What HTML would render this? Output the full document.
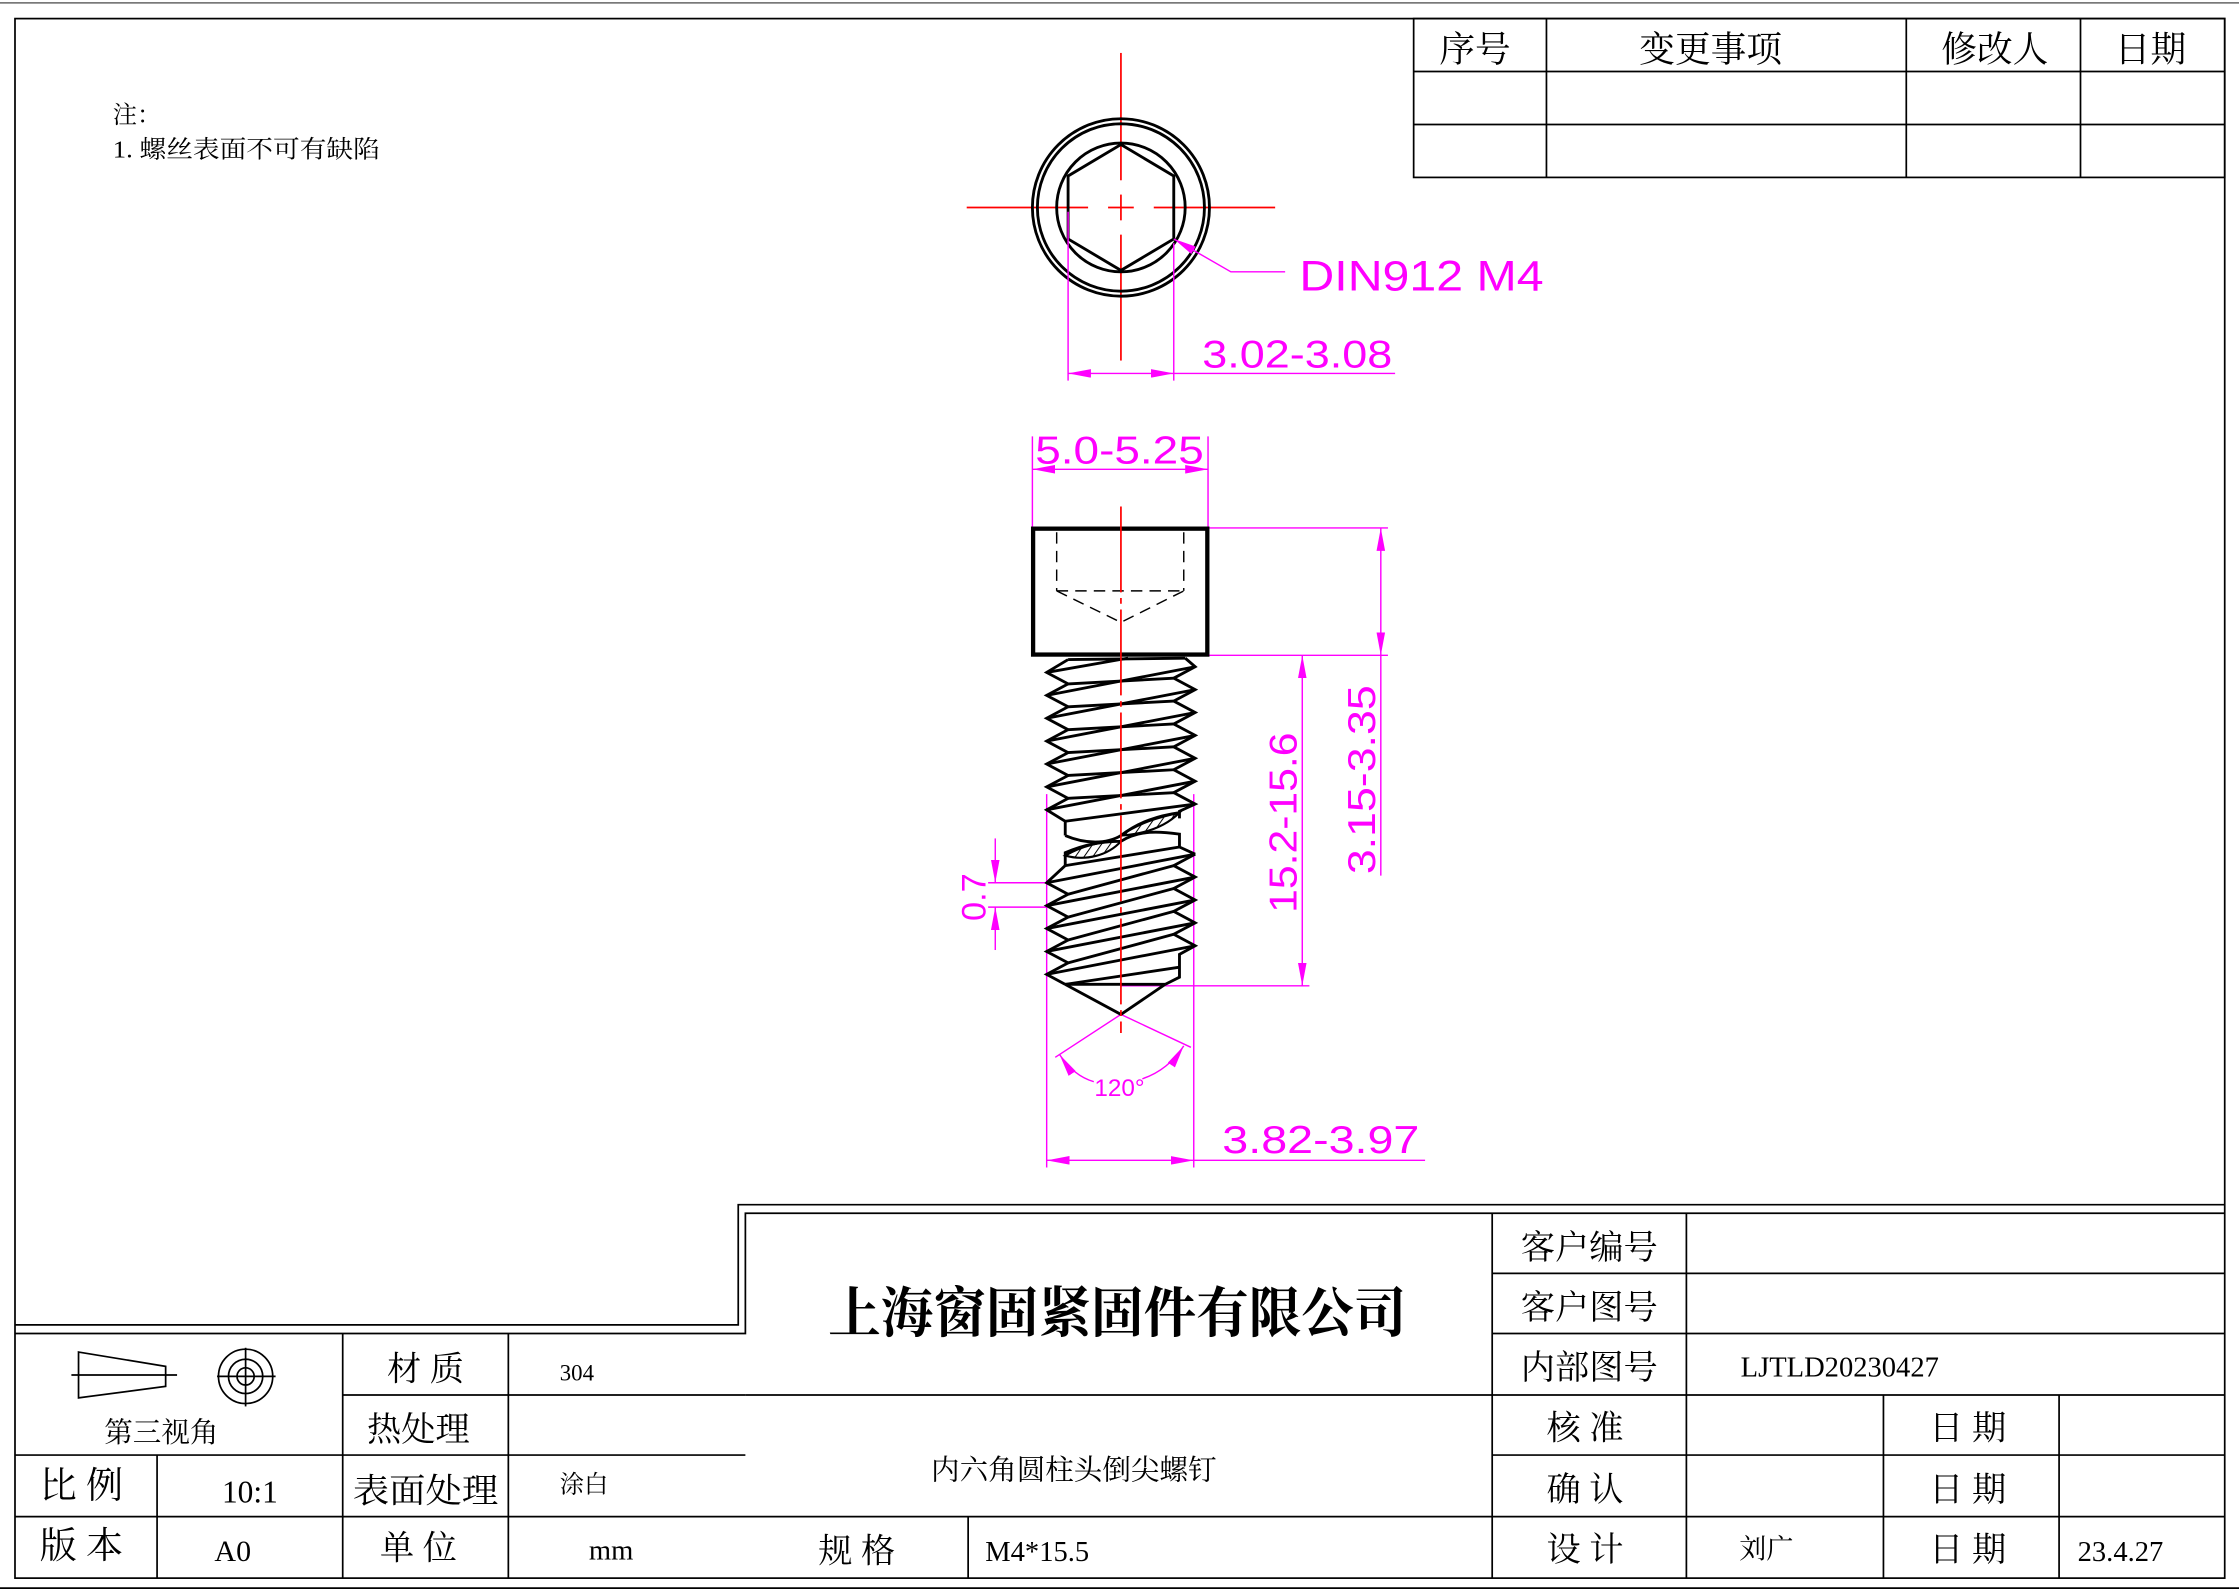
<!DOCTYPE html>
<html><head><meta charset="utf-8"><style>
html,body{margin:0;padding:0;background:#fff;}
svg{display:block;}
text{font-family:"Liberation Serif","Noto Serif CJK SC",serif;fill:#000;}
.d{font-family:"Liberation Sans","DejaVu Sans",sans-serif;fill:#f0f;font-weight:normal;}
</style></head><body>
<svg width="2239" height="1591" viewBox="0 0 1568 1112" preserveAspectRatio="none" xmlns="http://www.w3.org/2000/svg">
<defs>
<marker id="a" viewBox="0 0 16 6" refX="16" refY="3" markerWidth="16" markerHeight="6" markerUnits="userSpaceOnUse" orient="auto-start-reverse"><path d="M0,0 L16,3 L0,6 Z" fill="#f0f"/></marker>
<pattern id="h" width="5" height="5" patternUnits="userSpaceOnUse" patternTransform="rotate(35)"><line x1="0" y1="0" x2="0" y2="5" stroke="#000" stroke-width="1.4"/></pattern>
</defs>
<rect width="1568" height="1112" fill="#fff"/>
<!-- outer frame -->
<line x1="0" y1="2" x2="1568" y2="2" stroke="#666" stroke-width="1"/>
<line x1="0" y1="1110" x2="1568" y2="1110" stroke="#000" stroke-width="1.2"/>
<rect x="10.5" y="13" width="1547.5" height="1090" fill="none" stroke="#000" stroke-width="1.2"/>
<!-- revision table -->
<g stroke="#000" stroke-width="1.2" fill="none">
<rect x="990" y="13" width="568" height="111"/>
<line x1="990" y1="50" x2="1558" y2="50"/><line x1="990" y1="87" x2="1558" y2="87"/>
<line x1="1083" y1="13" x2="1083" y2="124"/><line x1="1335" y1="13" x2="1335" y2="124"/><line x1="1457" y1="13" x2="1457" y2="124"/>
</g>
<g font-size="25" text-anchor="middle">
<text x="1033" y="43">序号</text><text x="1198" y="43">变更事项</text><text x="1397" y="43">修改人</text><text x="1506" y="43">日期</text>
</g>
<text x="79" y="86" font-size="17">注：</text>
<text x="79" y="110" font-size="17" textLength="187" lengthAdjust="spacingAndGlyphs">1. 螺丝表面不可有缺陷</text>

<!-- top view -->
<g stroke="#f00" stroke-width="1.2">
<line x1="677" y1="145" x2="762" y2="145"/><line x1="776" y1="145" x2="794" y2="145"/><line x1="808" y1="145" x2="893" y2="145"/>
<line x1="785" y1="37" x2="785" y2="126"/><line x1="785" y1="136" x2="785" y2="154"/><line x1="785" y1="164" x2="785" y2="252"/>
</g>
<g stroke="#000" stroke-width="2" fill="none">
<circle cx="785" cy="145" r="62"/><circle cx="785" cy="145" r="58.5"/><circle cx="785" cy="145" r="45"/>
<polygon points="785,101 822,123 822,167 785,189 748,167 748,123"/>
</g>
<g stroke="#f0f" stroke-width="1" fill="none">
<polyline points="822,167 862,190 900,190" marker-start="url(#a)"/>
<line x1="748" y1="148" x2="748" y2="266"/><line x1="822" y1="170" x2="822" y2="266"/>
<line x1="748" y1="261" x2="822" y2="261" marker-start="url(#a)" marker-end="url(#a)"/>
<line x1="822" y1="261" x2="977" y2="261"/>
</g>
<text class="d" x="910" y="203" font-size="30" textLength="171" lengthAdjust="spacingAndGlyphs">DIN912  M4</text>
<text class="d" x="842" y="257" font-size="27" textLength="133" lengthAdjust="spacingAndGlyphs">3.02-3.08</text>

<!-- side view dims -->
<g stroke="#f0f" stroke-width="1" fill="none">
<line x1="723" y1="305" x2="723" y2="368"/><line x1="846" y1="305" x2="846" y2="368"/>
<line x1="723" y1="328" x2="846" y2="328" marker-start="url(#a)" marker-end="url(#a)"/>
<line x1="846" y1="369" x2="972" y2="369"/><line x1="846" y1="458" x2="972" y2="458"/>
<line x1="967" y1="369" x2="967" y2="458" marker-start="url(#a)" marker-end="url(#a)"/>
<line x1="967" y1="458" x2="967" y2="612"/>
<line x1="912" y1="458" x2="912" y2="689" marker-start="url(#a)" marker-end="url(#a)"/>
<line x1="785" y1="689" x2="917" y2="689"/>
<line x1="733" y1="555" x2="733" y2="816"/><line x1="836" y1="555" x2="836" y2="816"/>
<line x1="733" y1="811" x2="836" y2="811" marker-start="url(#a)" marker-end="url(#a)"/>
<line x1="836" y1="811" x2="998" y2="811"/>
<line x1="692" y1="617" x2="733" y2="617"/><line x1="692" y1="634" x2="733" y2="634"/>
<line x1="697" y1="586" x2="697" y2="617" marker-end="url(#a)"/>
<line x1="697" y1="664" x2="697" y2="634" marker-end="url(#a)"/>
<line x1="785" y1="709" x2="739" y2="739"/><line x1="785" y1="709" x2="834" y2="732"/>
<path d="M742,737 Q752,752 766,756" marker-start="url(#a)"/>
<path d="M829,731 Q818,748 800,754" marker-start="url(#a)"/>
</g>
<text class="d" x="725" y="324" font-size="27" textLength="118" lengthAdjust="spacingAndGlyphs">5.0-5.25</text>
<text class="d" x="856" y="806" font-size="27" textLength="138" lengthAdjust="spacingAndGlyphs">3.82-3.97</text>
<text class="d" x="784" y="766" font-size="17" text-anchor="middle">120°</text>
<text class="d" font-size="27" transform="translate(908,575) rotate(-90)" text-anchor="middle" textLength="126" lengthAdjust="spacingAndGlyphs">15.2-15.6</text>
<text class="d" font-size="27" transform="translate(963,545) rotate(-90)" text-anchor="middle" textLength="132" lengthAdjust="spacingAndGlyphs">3.15-3.35</text>
<text class="d" font-size="24" transform="translate(690,627) rotate(-90)" text-anchor="middle">0.7</text>

<!-- head -->
<rect x="723.5" y="369.5" width="122" height="88" fill="none" stroke="#000" stroke-width="3"/>
<g stroke="#000" stroke-width="1" fill="none" stroke-dasharray="8,5">
<line x1="740" y1="372" x2="740" y2="413"/><line x1="829" y1="372" x2="829" y2="413"/>
<line x1="740" y1="413" x2="829" y2="413"/>
<polyline points="740,413 785,435 829,413"/>
</g>
<!-- threads -->
<g stroke="#000" stroke-width="2" fill="none" stroke-linejoin="miter">
<polyline points="748,461 733,470 748,478 733,486 748,494 733,502 748,510 733,518 748,526 733,534 748,542 733,550 748,558 733,566 746,574 746,584"/>
<polyline points="830,460 837,466 822,474 837,482 822,490 837,498 822,506 837,514 822,522 837,530 822,538 837,546 822,554 837,562 826,567 826,572"/>
<line x1="748" y1="461" x2="830" y2="460"/>
<line x1="733" y1="470" x2="790" y2="460"/>
<line x1="733" y1="486" x2="837" y2="466"/><line x1="733" y1="502" x2="837" y2="482"/><line x1="733" y1="518" x2="837" y2="498"/>
<line x1="733" y1="534" x2="837" y2="514"/><line x1="733" y1="550" x2="837" y2="530"/><line x1="733" y1="566" x2="837" y2="546"/>
<line x1="746" y1="574" x2="837" y2="562"/>
<line x1="748" y1="478" x2="822" y2="474"/><line x1="748" y1="494" x2="822" y2="490"/><line x1="748" y1="510" x2="822" y2="506"/>
<line x1="748" y1="526" x2="822" y2="522"/><line x1="748" y1="542" x2="822" y2="538"/><line x1="748" y1="558" x2="822" y2="554"/>
<!-- break -->
<path d="M746,584 C760,590 775,590 785,584 C798,574 812,570 826,568"/>
<path d="M746,605 L746,596 C760,590 772,588 785,588 C798,580 812,581 826,583 L826,592 L837,597"/>
<!-- lower -->
<polyline points="746,605 733,617 748,625 733,633 748,641 733,649 748,657 733,665 748,673 733,681 746,688"/>
<polyline points="837,597 822,605 837,613 822,621 837,629 822,637 837,645 822,653 837,661 826,667 826,683 816,688"/>
<line x1="746" y1="605" x2="826" y2="592"/>
<line x1="733" y1="617" x2="837" y2="597"/><line x1="733" y1="633" x2="837" y2="613"/><line x1="733" y1="649" x2="837" y2="629"/>
<line x1="733" y1="665" x2="837" y2="645"/><line x1="733" y1="681" x2="837" y2="661"/>
<line x1="748" y1="625" x2="822" y2="605"/><line x1="748" y1="641" x2="822" y2="621"/><line x1="748" y1="657" x2="822" y2="637"/><line x1="748" y1="673" x2="822" y2="653"/>
<line x1="746" y1="688" x2="826" y2="676"/>
<line x1="746" y1="688" x2="816" y2="688"/>
<polyline points="746,688 785,709 816,688"/>
</g>
<path d="M785,584 C798,575 812,571 826,568 C815,579 800,583 785,584 Z" fill="url(#h)" stroke="#000" stroke-width="1.5"/>
<path d="M746,598 C758,591 772,588 785,588 C776,598 760,602 746,598 Z" fill="url(#h)" stroke="#000" stroke-width="1.5"/>
<line x1="785" y1="354" x2="785" y2="722" stroke="#f00" stroke-width="1.2" stroke-dasharray="60,4,4,4"/>

<!-- title block frame -->
<g stroke="#000" stroke-width="1.2" fill="none">
<polyline points="10.5,926 517,926 517,842 1558,842"/>
<polyline points="10.5,932 522,932 522,848 1558,848"/>
<line x1="522" y1="975" x2="1558" y2="975"/>
<line x1="240" y1="975" x2="522" y2="975"/>
<line x1="10.5" y1="1017" x2="522" y2="1017"/>
<line x1="1045" y1="1017" x2="1558" y2="1017"/>
<line x1="10.5" y1="1060" x2="1558" y2="1060"/>
<line x1="1045" y1="890" x2="1558" y2="890"/>
<line x1="1045" y1="932" x2="1558" y2="932"/>
<line x1="110" y1="1017" x2="110" y2="1103"/>
<line x1="240" y1="932" x2="240" y2="1103"/>
<line x1="356" y1="932" x2="356" y2="1103"/>
<line x1="678" y1="1060" x2="678" y2="1103"/>
<line x1="1045" y1="848" x2="1045" y2="1103"/>
<line x1="1181" y1="848" x2="1181" y2="1103"/>
<line x1="1319" y1="975" x2="1319" y2="1103"/>
<line x1="1442" y1="975" x2="1442" y2="1103"/>
<!-- projection icon -->
<polygon points="55,945 116,955 116,969 55,977"/>
<line x1="50" y1="961" x2="124" y2="961"/>
<circle cx="172" cy="962" r="19"/><circle cx="172" cy="962" r="12"/><circle cx="172" cy="962" r="6"/>
<line x1="152" y1="962" x2="193" y2="962"/><line x1="172" y1="942" x2="172" y2="983"/>
</g>
<g font-size="24" text-anchor="middle">
<text x="113" y="1008" font-size="20">第三视角</text>
<text x="298" y="965">材 质</text>
<text x="293" y="1007">热处理</text>
<text x="57" y="1047" font-size="26">比 例</text>
<text x="298" y="1050" textLength="102" lengthAdjust="spacingAndGlyphs">表面处理</text>
<text x="57" y="1089" font-size="26">版 本</text>
<text x="293" y="1090">单 位</text>
<text x="600" y="1092">规  格</text>
<text x="175" y="1050" font-size="22">10:1</text>
<text x="163" y="1091" font-size="21">A0</text>
<text x="428" y="1090" font-size="20">mm</text>
<text x="1113" y="880">客户编号</text>
<text x="1113" y="922">客户图号</text>
<text x="1113" y="964">内部图号</text>
<text x="1110" y="1006">核   准</text>
<text x="1110" y="1049">确   认</text>
<text x="1110" y="1091">设   计</text>
<text x="1378" y="1006">日  期</text>
<text x="1378" y="1049">日  期</text>
<text x="1378" y="1091">日  期</text>
</g>
<text x="392" y="965" font-size="16">304</text>
<text x="392" y="1043" font-size="17">涂白</text>
<text x="690" y="1091" font-size="20">M4*15.5</text>
<text x="1219" y="962" font-size="20">LJTLD20230427</text>
<text x="1218" y="1089" font-size="19">刘广</text>
<text x="1455" y="1091" font-size="20">23.4.27</text>
<text x="580" y="931" font-size="38" textLength="405" lengthAdjust="spacingAndGlyphs" font-weight="bold">上海窗固紧固件有限公司</text>
<text x="752" y="1034" font-size="20" text-anchor="middle">内六角圆柱头倒尖螺钉</text>
</svg>
</body></html>
